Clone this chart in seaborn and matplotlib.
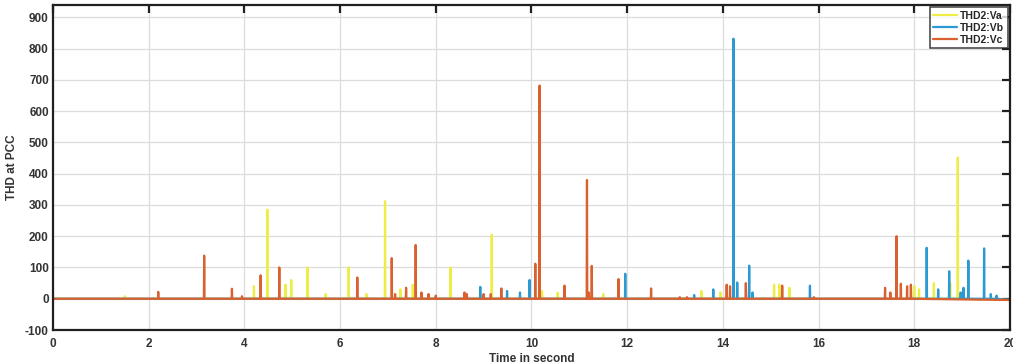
import numpy as np
import pandas as pd
import matplotlib
matplotlib.use("Agg")
import matplotlib.pyplot as plt
import seaborn as sns

# spike events: time (s) and THD value
va_times = [1.5, 4.2, 4.48, 4.86, 4.98, 5.32, 5.7, 6.18, 6.55, 6.94, 7.26, 7.52, 8.31,
            9.17, 10.22, 10.55, 11.5, 13.55, 13.95, 15.07, 15.18, 15.39, 18.0, 18.1,
            18.41, 18.75, 18.91]
va_values = [8, 40, 285, 45, 60, 100, 15, 100, 15, 312, 30, 45, 100,
             205, 25, 20, 15, 25, 20, 45, 45, 35, 40, 30,
             50, 50, 452]

vb_times = [8.93, 9.49, 9.76, 9.96, 11.96, 13.4, 13.8, 14.22, 14.3, 14.55, 14.62,
            15.82, 18.26, 18.5, 18.73, 18.97, 19.03, 19.13, 19.46, 19.6, 19.72]
vb_values = [38, 25, 20, 60, 80, 12, 30, 832, 52, 106, 20,
             42, 163, 30, 88, 20, 35, 122, 161, 15, 10]

vc_times = [2.2, 3.16, 3.74, 3.95, 4.34, 4.73, 6.36, 7.08, 7.15, 7.38, 7.58, 7.7,
            7.85, 8.0, 8.6, 8.65, 9.0, 9.15, 9.37, 10.08, 10.17, 10.69, 11.16, 11.2,
            11.26, 11.82, 12.5, 13.1, 13.25, 14.08, 14.15, 14.48, 15.24, 15.9, 17.39,
            17.5, 17.63, 17.72, 17.85, 17.93]
vc_values = [22, 138, 32, 8, 75, 100, 68, 130, 15, 35, 172, 20,
             15, 10, 20, 15, 15, 15, 33, 112, 682, 42, 380, 20,
             105, 63, 33, 5, 5, 45, 40, 50, 42, 5, 35,
             20, 200, 48, 40, 45]

series_names = ["THD2:Va", "THD2:Vb", "THD2:Vc"]
series_colors = ["#EDED45", "#2C9AD2", "#D9602F"]


def spike_frame(times, values, name, half=0.006):
    xs, ys = [0.0], [0.0]
    for t, v in sorted(zip(times, values)):
        xs += [t - half, t, t + half]
        ys += [0.0, v, 0.0]
    xs.append(20.0)
    ys.append(-4.0)
    return pd.DataFrame({"time": xs, "thd": ys, "series": name})


df = pd.concat([
    spike_frame(va_times, va_values, series_names[0]),
    spike_frame(vb_times, vb_values, series_names[1]),
    spike_frame(vc_times, vc_values, series_names[2]),
], ignore_index=True)

sns.set_style("white")
plt.rcParams["font.family"] = ["Liberation Sans", "DejaVu Sans"]
plt.rcParams["axes.unicode_minus"] = False

fig = plt.figure(figsize=(10.13, 3.64), dpi=100)
ax = fig.add_axes([0.0523, 0.0934, 0.9447, 0.893])

sns.lineplot(data=df, x="time", y="thd", hue="series", hue_order=series_names,
             palette=series_colors, estimator=None, sort=False, linewidth=1.6, ax=ax)

ax.set_xlim(0, 20)
ax.set_ylim(-100, 940)
ax.set_xticks(np.arange(0, 21, 2))
ax.set_yticks(np.arange(-100, 901, 100))
ax.grid(True, color="#DCDCDC", linewidth=0.9)
ax.set_axisbelow(True)
for s in ax.spines.values():
    s.set_linewidth(1.6)
    s.set_color("#202020")
ax.tick_params(direction="in", length=6, width=1.6, top=True, right=True,
               labelsize=8.5, colors="#202020")
ax.tick_params(axis="y", pad=3)
ax.tick_params(axis="x", pad=6)
for lab in ax.get_xticklabels() + ax.get_yticklabels():
    lab.set_fontweight("bold")
    lab.set_color("#333333")

ax.set_xlabel("Time in second", fontsize=8.5, fontweight="bold", color="#333333", labelpad=2)
ax.set_ylabel("THD at PCC", fontsize=8.5, fontweight="bold", color="#333333", labelpad=5)

leg = ax.legend(loc="upper right", prop={"weight": "bold", "size": 7.5},
                frameon=True, fancybox=False, borderaxespad=0.2, handlelength=2.3,
                borderpad=0.35, labelspacing=0.2, handletextpad=0.3)
leg.get_frame().set_edgecolor("#202020")
leg.get_frame().set_linewidth(1.2)
for line in leg.get_lines():
    line.set_linewidth(1.6)

fig.savefig("out.png", dpi=100)
